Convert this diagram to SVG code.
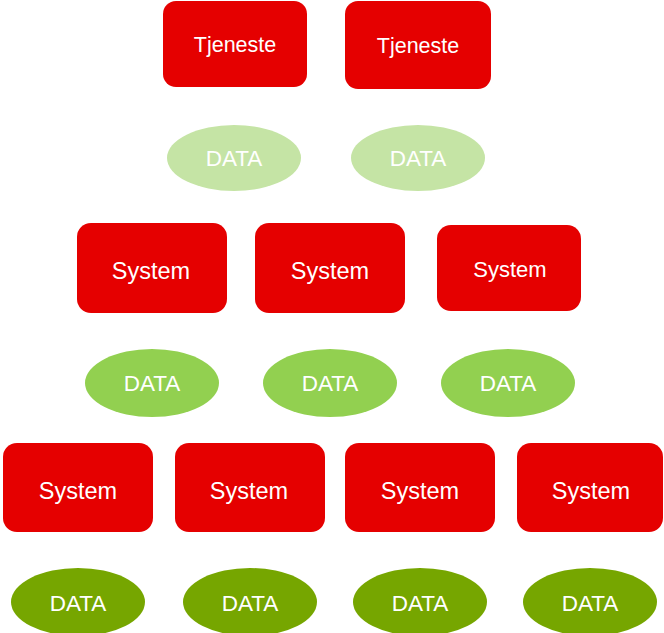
<svg xmlns="http://www.w3.org/2000/svg" width="664" height="633" viewBox="0 0 664 633">
<style>
.box{fill:#E50000}
.d1{fill:#C5E4A5}
.d2{fill:#92D050}
.d3{fill:#76A600}
text{font-family:"Liberation Sans",Arial,sans-serif;fill:#fff;text-anchor:middle}
.t{font-size:21.5px}
.s{font-size:23.5px}
.s3{font-size:22px}
.d{font-size:22.5px}
</style>
<rect width="664" height="633" fill="#fff"/>
<g id="tjeneste1"><rect class="box" x="163" y="1" width="144" height="86" rx="13"/><text class="t" x="235" y="52">Tjeneste</text></g>
<g id="tjeneste2"><rect class="box" x="345" y="1" width="146" height="88" rx="13"/><text class="t" x="418" y="53">Tjeneste</text></g>
<g id="data1"><ellipse class="d1" cx="234" cy="158" rx="67" ry="33"/><text class="d" x="234" y="166">DATA</text></g>
<g id="data2"><ellipse class="d1" cx="418" cy="158" rx="67" ry="33"/><text class="d" x="418" y="166">DATA</text></g>
<g id="system1"><rect class="box" x="77" y="223" width="150" height="90" rx="14"/><text class="s" x="151" y="279">System</text></g>
<g id="system2"><rect class="box" x="255" y="223" width="150" height="90" rx="14"/><text class="s" x="330" y="279">System</text></g>
<g id="system3"><rect class="box" x="437" y="225" width="144" height="86" rx="14"/><text class="s3" x="510" y="277">System</text></g>
<g id="data3"><ellipse class="d2" cx="152" cy="383" rx="67" ry="34"/><text class="d" x="152" y="391">DATA</text></g>
<g id="data4"><ellipse class="d2" cx="330" cy="383" rx="67" ry="34"/><text class="d" x="330" y="391">DATA</text></g>
<g id="data5"><ellipse class="d2" cx="508" cy="383" rx="67" ry="34"/><text class="d" x="508" y="391">DATA</text></g>
<g id="system4"><rect class="box" x="3" y="443" width="150" height="89" rx="14"/><text class="s" x="78" y="499">System</text></g>
<g id="system5"><rect class="box" x="175" y="443" width="150" height="89" rx="14"/><text class="s" x="249" y="499">System</text></g>
<g id="system6"><rect class="box" x="345" y="443" width="150" height="89" rx="14"/><text class="s" x="420" y="499">System</text></g>
<g id="system7"><rect class="box" x="517" y="443" width="146" height="89" rx="14"/><text class="s" x="591" y="499">System</text></g>
<g id="data6"><ellipse class="d3" cx="78" cy="602" rx="67" ry="34"/><text class="d" x="78" y="611">DATA</text></g>
<g id="data7"><ellipse class="d3" cx="250" cy="602" rx="67" ry="34"/><text class="d" x="250" y="611">DATA</text></g>
<g id="data8"><ellipse class="d3" cx="420" cy="602" rx="67" ry="34"/><text class="d" x="420" y="611">DATA</text></g>
<g id="data9"><ellipse class="d3" cx="590" cy="602" rx="67" ry="34"/><text class="d" x="590" y="611">DATA</text></g>
<g id="connectors"></g>
</svg>
